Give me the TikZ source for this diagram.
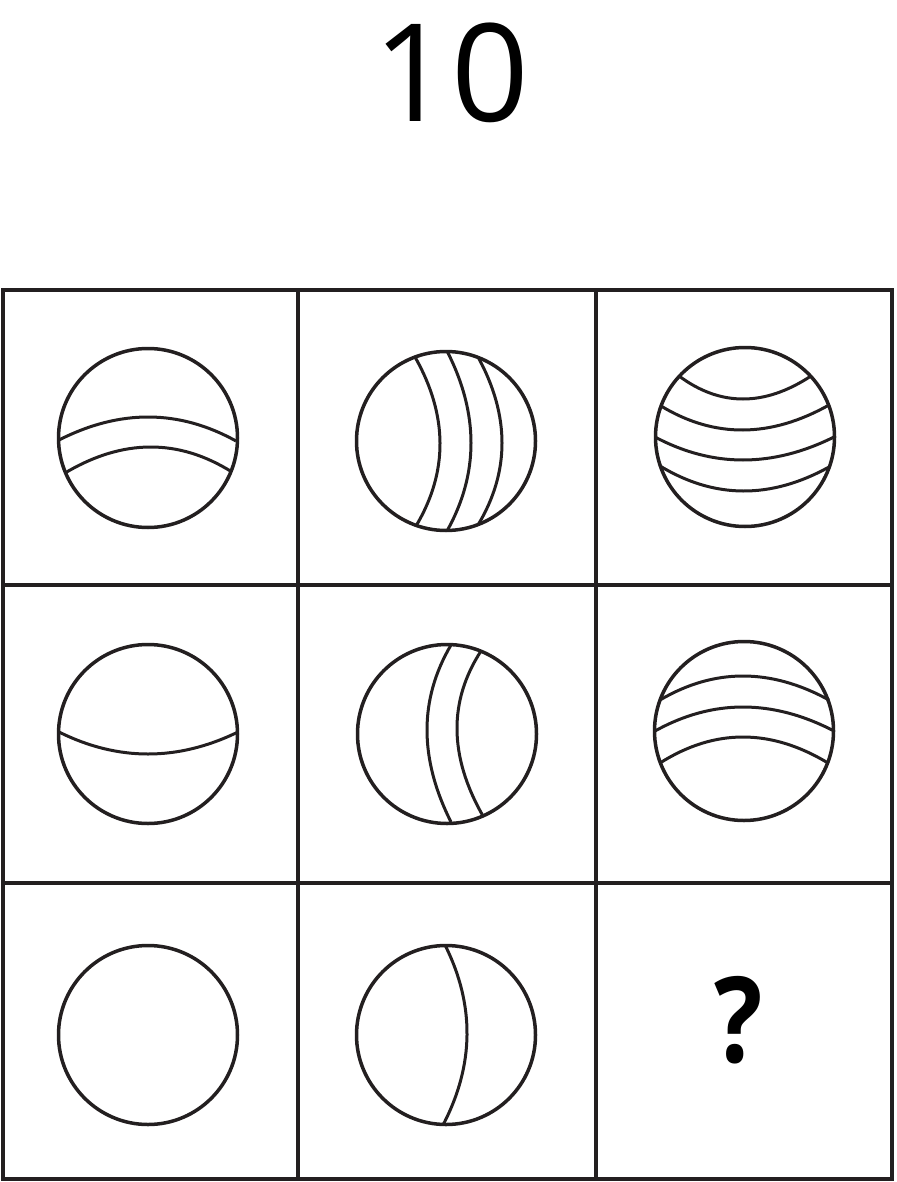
\documentclass[tikz,border=0pt]{standalone}
\usepackage{fontspec}
\setmainfont{Open Sans}
\usetikzlibrary{calc}
\definecolor{ink}{HTML}{231F20}
\tikzset{
  grid/.style={draw=ink, line width=3.4pt},
  ball/.style={draw=ink, line width=3.5pt},
  band/.style={draw=ink, line width=3pt},
}
\newcommand\bandthru[3]{%
  \coordinate (Q) at ($2*(#2)-0.5*(#1)-0.5*(#3)$);
  \draw[band] (#1) .. controls ($(#1)!2/3!(Q)$) and ($(#3)!2/3!(Q)$) .. (#3);}
\begin{document}
\begin{tikzpicture}[x=1pt,y=-1pt]
\useasboundingbox (0,0) rectangle (896,1182);
% title
\node[anchor=base, font=\fontsize{136}{140}\selectfont, text=black, inner sep=0] (title) at (451.5,122) {10};
% grid
\draw[grid] (3,290) rectangle (892,1179);
\draw[grid] (298,290) -- (298,1179);
\draw[grid] (596,290) -- (596,1179);
\draw[grid] (3,585) -- (892,585);
\draw[grid] (3,883) -- (892,883);
% row 1
\draw[ball] (148,438) circle (89.5pt);
\bandthru{59,440}{149,417}{236,441}
\bandthru{65,473}{150,447}{232,472}
\draw[ball] (446,441) circle (89.5pt);
\bandthru{415,357}{440,443}{416,526}
\bandthru{447,351}{471,443}{447,531}
\bandthru{478,357}{502,443}{478,525}
\draw[ball] (745,437) circle (89.5pt);
\bandthru{679,376}{743,399}{811,376}
\bandthru{661,406}{743,430}{829,405}
\bandthru{655,437}{743,460}{834,437}
\bandthru{660,466}{743,491}{829,467}
% row 2
\draw[ball] (148,734) circle (89.5pt);
\bandthru{59,732}{148,754}{238,732}
\draw[ball] (447,734) circle (89.5pt);
\bandthru{451,645}{427,730}{451,822}
\bandthru{481,651}{457,730}{483,816}
\draw[ball] (744,731) circle (89.5pt);
\bandthru{660,700}{743,676}{829,700}
\bandthru{655,731}{743,707}{834,731}
\bandthru{660,763}{743,737}{828,763}
% row 3
\draw[ball] (148,1035) circle (89.5pt);
\draw[ball] (446,1035) circle (89.5pt);
\bandthru{445,945}{467,1035}{443,1125}
\node[anchor=base, font=\fontsize{119}{120}\selectfont\bfseries, text=black, inner sep=0] (q) at (739,1062) {\scalebox{0.85}[1]{?}};
\end{tikzpicture}
\end{document}
